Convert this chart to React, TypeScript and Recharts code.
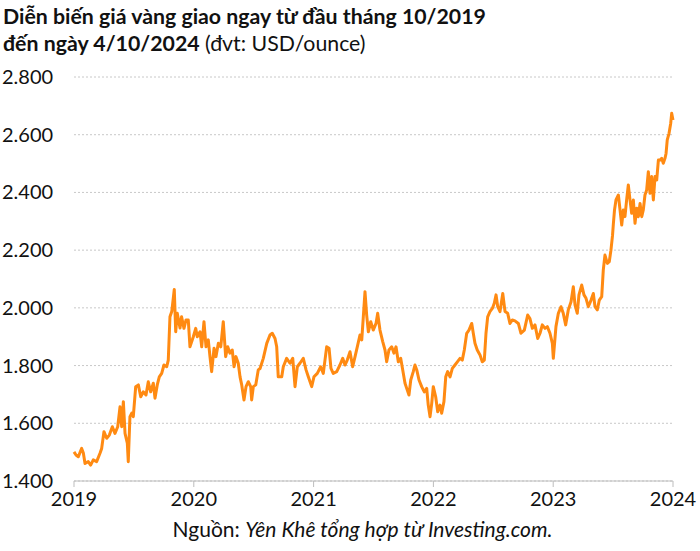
import { CartesianGrid, Line, LineChart, XAxis, YAxis } from "recharts";

// years since the first label (2019 on the axis)
const yearOffsets = [
  0, 0.017, 0.036, 0.064, 0.078, 0.092, 0.119, 0.139, 0.161, 0.189, 0.217, 0.231,
  0.25, 0.273, 0.295, 0.32, 0.342, 0.365, 0.384, 0.398, 0.412, 0.426, 0.445, 0.453,
  0.467, 0.482, 0.495, 0.515, 0.537, 0.557, 0.578, 0.601, 0.62, 0.64, 0.662, 0.676,
  0.695, 0.712, 0.732, 0.751, 0.774, 0.787, 0.801, 0.816, 0.837, 0.849, 0.862, 0.885,
  0.898, 0.918, 0.935, 0.954, 0.968, 0.996, 1.016, 1.029, 1.052, 1.066, 1.085, 1.102,
  1.121, 1.135, 1.149, 1.169, 1.185, 1.205, 1.225, 1.246, 1.266, 1.283, 1.302, 1.321,
  1.336, 1.352, 1.371, 1.386, 1.4, 1.419, 1.436, 1.455, 1.475, 1.483, 1.497, 1.517,
  1.538, 1.553, 1.58, 1.609, 1.636, 1.655, 1.678, 1.692, 1.705, 1.734, 1.747, 1.775,
  1.803, 1.826, 1.845, 1.864, 1.886, 1.914, 1.937, 1.956, 1.984, 2.003, 2.031, 2.059,
  2.081, 2.109, 2.129, 2.145, 2.164, 2.193, 2.22, 2.243, 2.262, 2.281, 2.304, 2.326,
  2.346, 2.368, 2.387, 2.402, 2.415, 2.429, 2.443, 2.457, 2.477, 2.498, 2.521, 2.535,
  2.554, 2.577, 2.596, 2.61, 2.629, 2.652, 2.671, 2.688, 2.707, 2.727, 2.744, 2.763,
  2.782, 2.796, 2.811, 2.832, 2.846, 2.861, 2.88, 2.902, 2.924, 2.944, 2.957, 2.972,
  2.986, 2.999, 3.019, 3.036, 3.055, 3.069, 3.088, 3.103, 3.119, 3.139, 3.158, 3.18,
  3.2, 3.222, 3.241, 3.258, 3.278, 3.297, 3.32, 3.333, 3.347, 3.366, 3.389, 3.408,
  3.425, 3.439, 3.453, 3.472, 3.492, 3.508, 3.523, 3.537, 3.556, 3.579, 3.598, 3.62,
  3.639, 3.659, 3.681, 3.709, 3.731, 3.759, 3.787, 3.806, 3.826, 3.848, 3.871, 3.89,
  3.909, 3.932, 3.951, 3.973, 3.993, 4.001, 4.023, 4.043, 4.065, 4.084, 4.104, 4.126,
  4.149, 4.168, 4.182, 4.201, 4.215, 4.238, 4.257, 4.274, 4.293, 4.316, 4.335, 4.349,
  4.368, 4.385, 4.405, 4.418, 4.432, 4.452, 4.468, 4.482, 4.495, 4.502, 4.512, 4.524,
  4.544, 4.558, 4.572, 4.585, 4.599, 4.613, 4.627, 4.641, 4.655, 4.669, 4.683, 4.697,
  4.711, 4.725, 4.739, 4.752, 4.766, 4.78, 4.794, 4.808, 4.822, 4.836, 4.85, 4.864,
  4.878, 4.892, 4.906, 4.919, 4.933, 4.942, 4.952, 4.967, 4.981, 4.989, 4.997, 5,
];

// spot gold, USD/ounce
const goldPrices = [
  1501, 1490, 1484, 1513, 1497, 1461, 1467, 1455, 1473, 1467, 1496, 1513,
  1571, 1548, 1559, 1588, 1565, 1588, 1657, 1588, 1675, 1565, 1531, 1467,
  1623, 1635, 1623, 1727, 1733, 1692, 1709, 1698, 1744, 1709, 1739, 1687,
  1733, 1761, 1773, 1802, 1796, 1819, 1969, 1987, 2064, 1917, 1981, 1930,
  1969, 1929, 1958, 1958, 1865, 1900, 1929, 1900, 1917, 1865, 1952, 1865,
  1889, 1831, 1779, 1860, 1831, 1877, 1865, 1952, 1831, 1865, 1843, 1854,
  1796, 1831, 1808, 1761, 1733, 1681, 1727, 1744, 1727, 1681, 1727, 1733,
  1785, 1790, 1825, 1877, 1906, 1912, 1894, 1865, 1761, 1761, 1796, 1825,
  1808, 1825, 1727, 1796, 1808, 1825, 1785, 1761, 1727, 1761, 1773, 1796,
  1773, 1865, 1860, 1790, 1773, 1779, 1802, 1825, 1802, 1819, 1848, 1796,
  1831, 1871, 1906, 1889, 1969, 2056, 1975, 1917, 1952, 1923, 1946, 1981,
  1923, 1883, 1854, 1813, 1854, 1865, 1843, 1865, 1813, 1825, 1785, 1739,
  1715, 1698, 1750, 1779, 1802, 1785, 1750, 1727, 1709, 1721, 1663, 1623,
  1669, 1727, 1692, 1640, 1663, 1635, 1675, 1761, 1779, 1761, 1790, 1802,
  1813, 1825, 1819, 1854, 1912, 1923, 1946, 1912, 1877, 1854, 1837, 1813,
  1819, 1912, 1969, 1987, 1998, 2016, 2045, 2004, 1987, 2050, 1987, 1981,
  1946, 1958, 1955, 1946, 1912, 1923, 1975, 1963, 1929, 1941, 1894, 1912,
  1941, 1929, 1935, 1912, 1877, 1825, 1935, 1981, 2004, 1981, 1941, 1993,
  2021, 2073, 2010, 1981, 2045, 2079, 2045, 2033, 2004, 2027, 2050, 2004,
  1993, 2027, 2039, 2131, 2183, 2154, 2160, 2200, 2250, 2290, 2340, 2374,
  2391, 2339, 2287, 2339, 2316, 2374, 2426, 2374, 2328, 2374, 2293, 2345,
  2316, 2362, 2316, 2339, 2391, 2408, 2472, 2397, 2455, 2374, 2455, 2443,
  2512, 2512, 2518, 2501, 2518, 2535, 2582, 2605, 2640, 2674, 2657, 2651,
];

const startYear = 2019;
const yearTicks = [2019, 2020, 2021, 2022, 2023, 2024];
const priceTicks = [1400, 1600, 1800, 2000, 2200, 2400, 2600, 2800];

const data = yearOffsets.map((t, i) => ({ t: startYear + t, price: goldPrices[i] }));

const FONT = "Lato, 'Noto Sans', sans-serif";

const fmtPrice = (v: number) =>
  `${Math.floor(v / 1000)}.${String(v % 1000).padStart(3, "0")}`;

function PriceTick({ y, payload }: any) {
  return (
    <text x={2} y={y} dy={7} textAnchor="start" fontSize={20} fill="#111" fontFamily={FONT}>
      {fmtPrice(payload.value)}
    </text>
  );
}

function YearTick({ x, y, payload }: any) {
  return (
    <text x={x} y={y} dy={17} textAnchor="middle" fontSize={20} fill="#111" fontFamily={FONT}>
      {payload.value}
    </text>
  );
}

export default function App() {
  return (
    <div
      style={{
        position: "absolute",
        left: 0,
        top: 0,
        width: 700,
        height: 551,
        background: "#fff",
        fontFamily: FONT,
        color: "#111",
      }}
    >
      <div style={{ position: "absolute", left: 3, top: 3, fontSize: 21.3, lineHeight: "27px" }}>
        <div style={{ fontWeight: 700 }}>Diễn biến giá vàng giao ngay từ đầu tháng 10/2019</div>
        <div>
          <span style={{ fontWeight: 700 }}>đến ngày 4/10/2024</span> (đvt: USD/ounce)
        </div>
      </div>
      <div style={{ position: "absolute", left: 0, top: 0 }}>
        <LineChart
          width={700}
          height={551}
          data={data}
          margin={{ top: 77, right: 27, left: 0, bottom: 0 }}
        >
          <CartesianGrid vertical={false} stroke="#c8c8c8" strokeDasharray="2 2" />
          <XAxis
            type="number"
            dataKey="t"
            domain={[2019, 2024]}
            ticks={yearTicks}
            tick={<YearTick />}
            height={70}
            axisLine={{ stroke: "#bdbdbd" }}
            tickLine={{ stroke: "#bdbdbd" }}
            tickSize={6}
          />
          <YAxis
            type="number"
            domain={[1400, 2800]}
            ticks={priceTicks}
            tick={<PriceTick />}
            width={74}
            axisLine={false}
            tickLine={false}
          />
          <Line
            type="linear"
            dataKey="price"
            stroke="#ff8a12"
            strokeWidth={3}
            strokeLinejoin="round"
            dot={false}
            isAnimationActive={false}
          />
        </LineChart>
      </div>
      <div
        style={{
          position: "absolute",
          left: 0,
          width: 725,
          top: 516,
          textAlign: "center",
          fontSize: 21,
        }}
      >
        Nguồn: <i>Yên Khê tổng hợp từ Investing.com.</i>
      </div>
    </div>
  );
}
